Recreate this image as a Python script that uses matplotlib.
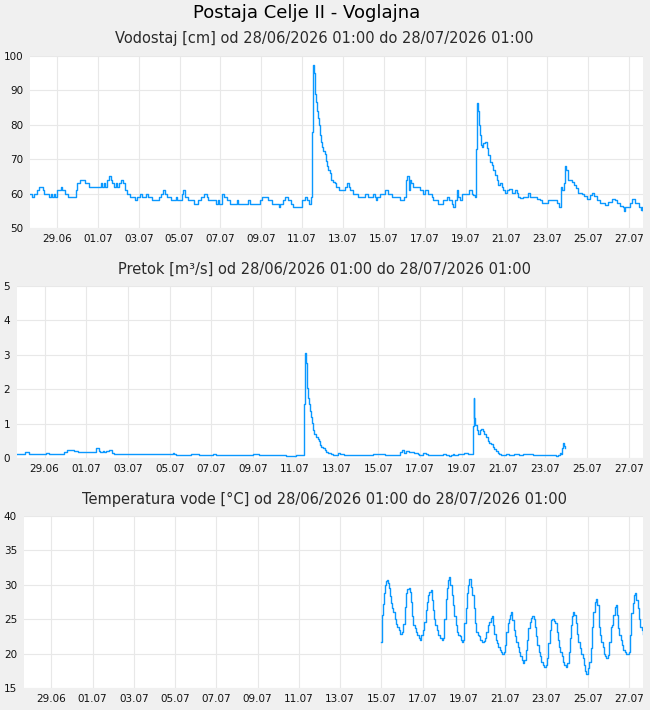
import matplotlib

matplotlib.use("Agg")
import matplotlib.pyplot as plt

# time axis: days since 28/06/2026 01:00 (30 day window)
TICK_DAYS = [1.32 + 2 * k for k in range(15)]
TICK_LABELS = ["29.06", "01.07", "03.07", "05.07", "07.07", "09.07", "11.07", "13.07",
               "15.07", "17.07", "19.07", "21.07", "23.07", "25.07", "27.07"]

# Vodostaj [cm]
level_t = [0.00, 0.08, 0.20, 0.36, 0.46, 0.62, 0.70, 0.95, 1.01, 1.09, 1.17, 1.22, 1.34, 1.50,
           1.57, 1.71, 1.88, 2.25, 2.32, 2.45, 2.69, 2.90, 3.48, 3.54, 3.62, 3.69, 3.79, 3.87,
           3.96, 4.03, 4.13, 4.19, 4.27, 4.34, 4.44, 4.57, 4.63, 4.73, 4.89, 5.14, 5.25, 5.38,
           5.47, 5.68, 5.76, 5.96, 6.30, 6.43, 6.53, 6.62, 6.72, 6.89, 7.13, 7.18, 7.42, 7.51,
           7.59, 7.75, 8.04, 8.24, 8.37, 8.52, 8.65, 8.73, 9.10, 9.20, 9.27, 9.38, 9.49, 9.63,
           9.79, 10.12, 10.18, 10.65, 10.77, 11.26, 11.37, 11.63, 11.83, 12.20, 12.25, 12.37,
           12.48, 12.63, 12.76, 12.89, 13.31, 13.46, 13.57, 13.66, 13.74, 13.82, 13.87, 13.92,
           13.95, 14.00, 14.05, 14.10, 14.15, 14.19, 14.25, 14.30, 14.36, 14.42, 14.47, 14.53,
           14.60, 14.66, 14.73, 14.85, 14.92, 14.98, 15.10, 15.40, 15.50, 15.60, 15.66, 15.83,
           16.07, 16.40, 16.56, 16.77, 16.90, 16.94, 16.98, 17.13, 17.38, 17.54, 17.70, 18.11,
           18.31, 18.39, 18.47, 18.55, 18.58, 18.63, 18.76, 19.09, 19.25, 19.35, 19.50, 19.65,
           19.74, 19.99, 20.23, 20.39, 20.53, 20.64, 20.72, 20.80, 20.88, 20.97, 21.05, 21.16,
           21.49, 21.62, 21.70, 21.78, 21.83, 21.88, 21.92, 21.96, 22.01, 22.06, 22.12, 22.19,
           22.27, 22.35, 22.43, 22.52, 22.60, 22.68, 22.76, 22.84, 22.92, 23.01, 23.09, 23.17,
           23.25, 23.33, 23.46, 23.58, 23.74, 23.82, 23.90, 23.98, 24.11, 24.31, 24.39, 24.47,
           24.80, 24.96, 25.05, 25.37, 25.70, 25.78, 25.91, 25.99, 26.04, 26.11, 26.16, 26.20,
           26.25, 26.32, 26.51, 26.60, 26.73, 26.84, 27.00, 27.13, 27.25, 27.41, 27.49, 27.61,
           27.74, 27.90, 28.14, 28.31, 28.47, 28.63, 28.72, 28.88, 29.04, 29.09, 29.12, 29.37,
           29.48, 29.61, 29.78, 29.89, 29.94, 29.99, 30.00]
level_v = [60, 59, 60, 61, 62, 61, 60, 59, 60, 59, 60, 59, 61, 62,
           61, 60, 59, 61, 63, 64, 63, 62, 63, 62, 63, 62, 64, 65,
           64, 63, 62, 63, 62, 63, 64, 63, 61, 60, 59, 58, 59, 60,
           59, 60, 59, 58, 59, 60, 61, 60, 59, 58, 59, 58, 60, 61,
           59, 58, 57, 58, 59, 60, 59, 58, 57, 58, 57, 60, 59, 58,
           57, 58, 57, 58, 57, 58, 59, 58, 57, 56, 57, 58,
           59, 58, 57, 56, 58, 59, 58, 57, 59, 78, 97.5, 95,
           89, 86.5, 84, 82, 80, 77, 75, 73.5, 72.5, 71.5, 69.5, 68,
           67, 66, 64, 63.5, 63, 62, 61, 62, 63, 62, 61, 60,
           59, 60, 59, 60, 59, 58, 59, 60, 61, 60, 59, 58,
           59, 64, 65, 61, 64, 63, 62, 61, 60, 61, 60, 59,
           58, 57, 58, 59, 58, 57, 56, 58, 61, 59, 58, 60,
           61, 60, 59.5, 59, 73, 86.4, 84, 80, 77, 74, 73.5, 74.8,
           75.1, 73.2, 71.2, 69.3, 68.3, 66.9, 65.4, 64, 62.5, 63, 62, 61,
           60.3, 61, 61.2, 60.3, 61, 60.3, 59.1, 58.6, 59.1, 59, 60.1, 59,
           58.3, 58, 57.2, 58.1, 58.1, 57.2, 56.2, 62, 61, 63, 64.4, 68,
           66.9, 64, 63.5, 62.5, 61.5, 60.3, 60, 59.3, 58.3, 59.6, 60.3, 59.3,
           58.1, 57.2, 56.7, 57.7, 58.3, 58, 57.2, 56.4, 56.2, 55, 56.2, 57.2,
           58.3, 57.2, 56.2, 55.2, 56.2, 55, 55]

# Pretok [m3/s]
flow_t = [0.00, 0.39, 0.58, 1.38, 1.54, 2.26, 2.42, 2.74, 2.90, 3.54, 3.65, 3.78, 3.91, 4.00,
          4.10, 4.18, 4.26, 4.42, 4.55, 4.66, 5.86, 7.46, 7.54, 7.62, 8.34, 8.73, 9.37, 9.53,
          11.29, 11.61, 12.89, 13.37, 13.77, 13.82, 13.85, 13.90, 13.96, 14.01, 14.06, 14.11,
          14.15, 14.20, 14.25, 14.33, 14.41, 14.46, 14.52, 14.58, 14.68, 14.74, 14.80, 14.92,
          15.05, 15.13, 15.37, 15.48, 15.69, 16.01, 16.37, 16.57, 16.73, 16.89, 17.05, 17.65,
          18.32, 18.37, 18.45, 18.56, 18.64, 18.80, 19.01, 19.20, 19.28, 19.44, 19.60, 19.68,
          20.40, 20.56, 20.69, 20.80, 20.88, 20.96, 21.12, 21.44, 21.60, 21.84, 21.89, 21.92,
          21.97, 22.05, 22.11, 22.18, 22.24, 22.32, 22.40, 22.48, 22.56, 22.64, 22.72, 22.80,
          22.88, 22.96, 23.04, 23.12, 23.20, 23.44, 23.60, 23.84, 24.08, 24.24, 24.72, 25.84,
          25.92, 26.00, 26.08, 26.12, 26.19, 26.23, 26.27]
flow_v = [0.12, 0.16, 0.12, 0.15, 0.12, 0.18, 0.22, 0.20, 0.17, 0.18, 0.17, 0.28, 0.20, 0.17,
          0.19, 0.16, 0.19, 0.22, 0.15, 0.12, 0.11, 0.14, 0.11, 0.09, 0.11, 0.09, 0.11, 0.09,
          0.12, 0.09, 0.06, 0.09, 1.58, 3.05, 2.75, 2.03, 1.75, 1.57, 1.38, 1.20,
          1.03, 0.80, 0.70, 0.62, 0.56, 0.48, 0.38, 0.32, 0.28, 0.22, 0.18, 0.14,
          0.12, 0.10, 0.14, 0.12, 0.10, 0.08, 0.10, 0.08, 0.10, 0.08, 0.12, 0.09,
          0.10, 0.17, 0.22, 0.15, 0.19, 0.18, 0.15, 0.12, 0.10, 0.14, 0.12, 0.09,
          0.11, 0.09, 0.06, 0.10, 0.13, 0.10, 0.12, 0.14, 0.12, 0.94, 1.75, 1.15,
          0.95, 0.82, 0.70, 0.80, 0.85, 0.78, 0.70, 0.60, 0.50, 0.45, 0.40, 0.32,
          0.25, 0.19, 0.15, 0.12, 0.10, 0.12, 0.10, 0.12, 0.10, 0.11, 0.09, 0.06,
          0.09, 0.14, 0.12, 0.30, 0.43, 0.35, 0.29]

# Temperatura vode [°C]
temp_t = [17.32, 17.34, 17.37, 17.42, 17.47, 17.51, 17.56, 17.61, 17.66, 17.71, 17.76, 17.81,
          17.85, 17.90, 17.97, 18.03, 18.10, 18.16, 18.23, 18.29, 18.34, 18.39, 18.45, 18.52,
          18.58, 18.65, 18.70, 18.74, 18.81, 18.87, 18.94, 19.00, 19.07, 19.15, 19.20, 19.26,
          19.33, 19.39, 19.46, 19.52, 19.59, 19.65, 19.72, 19.77, 19.81, 19.88, 19.94, 20.01,
          20.07, 20.14, 20.20, 20.27, 20.32, 20.36, 20.43, 20.49, 20.56, 20.62, 20.67, 20.72,
          20.79, 20.85, 20.92, 20.98, 21.04, 21.11, 21.17, 21.24, 21.30, 21.34, 21.40, 21.47,
          21.53, 21.58, 21.63, 21.68, 21.72, 21.79, 21.85, 21.92, 21.98, 22.05, 22.11, 22.18,
          22.28, 22.34, 22.41, 22.47, 22.55, 22.63, 22.68, 22.73, 22.79, 22.86, 22.92, 22.99,
          23.05, 23.12, 23.18, 23.25, 23.31, 23.38, 23.44, 23.51, 23.57, 23.62, 23.67, 23.73,
          23.80, 23.86, 23.93, 23.99, 24.06, 24.12, 24.19, 24.25, 24.32, 24.38, 24.45, 24.51,
          24.57, 24.64, 24.70, 24.75, 24.82, 24.88, 24.95, 25.01, 25.08, 25.14, 25.22, 25.29,
          25.35, 25.42, 25.48, 25.55, 25.61, 25.68, 25.74, 25.81, 25.87, 25.94, 26.00, 26.06,
          26.13, 26.19, 26.26, 26.32, 26.39, 26.45, 26.52, 26.58, 26.63, 26.68, 26.74, 26.81,
          26.87, 26.94, 27.00, 27.07, 27.13, 27.20, 27.26, 27.33, 27.39, 27.46, 27.52, 27.59,
          27.65, 27.72, 27.78, 27.85, 27.91, 27.98, 28.04, 28.11, 28.17, 28.23, 28.30, 28.36,
          28.43, 28.49, 28.56, 28.62, 28.67, 28.72, 28.79, 28.85, 28.92, 28.98, 29.04, 29.11,
          29.17, 29.24, 29.30, 29.37, 29.43, 29.50, 29.56, 29.63, 29.68, 29.74, 29.81, 29.87,
          29.94, 30.00]
temp_v = [21.7, 22.5, 25.6, 27.2, 28.8, 29.9, 30.6, 30.7, 30.2, 29.5, 28.3, 27.3,
          26.6, 26.1, 25.0, 24.3, 23.8, 23.4, 22.9, 22.8, 23.2, 24.3, 26.8, 28.8,
          29.4, 29.6, 29.0, 27.5, 25.4, 24.2, 23.7, 23.2, 22.7, 22.2, 22.0, 22.7,
          23.4, 24.6, 26.3, 27.5, 28.5, 29.0, 29.2, 27.8, 26.3, 25.1, 24.2, 23.4,
          22.7, 22.3, 22.2, 22.0, 22.2, 25.1, 28.0, 29.6, 30.7, 31.2, 30.0, 28.5,
          27.1, 25.4, 24.2, 23.2, 22.7, 22.5, 22.0, 21.7, 22.0, 24.4, 26.6, 28.8,
          30.0, 30.8, 30.9, 29.7, 28.5, 26.6, 24.4, 23.2, 22.7, 22.5, 22.0, 21.7,
          21.8, 22.2, 23.2, 24.2, 24.6, 25.2, 25.4, 24.2, 22.9, 22.0, 21.5, 21.0,
          20.5, 20.2, 20.0, 20.2, 21.2, 23.2, 24.4, 25.1, 25.6, 26.0, 24.9, 23.4,
          22.5, 21.7, 21.0, 20.3, 19.6, 19.1, 18.6, 19.1, 20.5, 22.0, 23.7, 24.6,
          25.2, 25.4, 25.1, 23.9, 22.5, 21.2, 20.3, 19.6, 18.8, 18.3, 18.0, 18.3,
          19.3, 21.5, 23.4, 24.9, 25.1, 24.7, 24.4, 23.2, 22.0, 21.0, 20.3, 19.6,
          18.8, 18.3, 18.1, 18.6, 20.3, 22.2, 24.2, 25.4, 26.1, 25.6, 24.4, 22.9,
          21.7, 20.8, 20.0, 19.3, 18.3, 17.5, 17.1, 17.9, 18.8, 20.8, 23.9, 26.1,
          27.5, 27.9, 27.1, 23.9, 22.7, 21.7, 21.0, 20.0, 19.6, 19.3, 19.8, 21.7,
          23.9, 24.1, 25.6, 26.8, 27.0, 25.6, 23.7, 22.7, 22.0, 21.2, 20.5, 20.3,
          20.0, 19.9, 20.3, 22.7, 25.9, 27.3, 28.5, 28.8, 27.8, 26.6, 25.1, 23.9,
          23.4, 22.8]

BG = "#f0f0f0"
LINE = "#0a98ff"
GRID = "#e8e8e8"
W, H = 650, 710


def px_axes(fig, left, top, right, bottom):
    return fig.add_axes([left / W, 1 - bottom / H, (right - left) / W, (bottom - top) / H])


def style(ax, ylim, yticks, subtitle, title_y):
    ax.set_xlim(0, 30)
    ax.set_ylim(*ylim)
    ax.set_xticks(TICK_DAYS)
    ax.set_xticklabels(TICK_LABELS)
    ax.set_yticks(yticks)
    ax.grid(True, color=GRID, linewidth=0.8)
    ax.set_axisbelow(True)
    for s in ax.spines.values():
        s.set_visible(False)
    ax.tick_params(length=0, labelsize=7.5, colors="#111", pad=5)
    ax.tick_params(axis="x", pad=4)
    ax.figure.text(324 / W, 1 - title_y / H, subtitle, ha="center", va="center",
                   fontsize=10.5, color="#2a2a2a")


fig = plt.figure(figsize=(W / 100, H / 100), dpi=100, facecolor=BG)
fig.text(307 / W, 1 - 13 / H, "Postaja Celje II - Voglajna", ha="center", va="center",
         fontsize=13, color="#000")

ax1 = px_axes(fig, 30, 56, 643, 228)
ax1.step(level_t, level_v, where="post", color=LINE, linewidth=1.0)
style(ax1, (50, 100), [50, 60, 70, 80, 90, 100],
      "Vodostaj [cm] od 28/06/2026 01:00 do 28/07/2026 01:00", 39)

ax2 = px_axes(fig, 17, 286, 643, 458)
ax2.step(flow_t, flow_v, where="post", color=LINE, linewidth=1.0)
style(ax2, (0, 5), [0, 1, 2, 3, 4, 5],
      "Pretok [m³/s] od 28/06/2026 01:00 do 28/07/2026 01:00", 269)

ax3 = px_axes(fig, 24, 516, 643, 688)
ax3.step(temp_t, temp_v, where="post", color=LINE, linewidth=1.0)
style(ax3, (15, 40), [15, 20, 25, 30, 35, 40],
      "Temperatura vode [°C] od 28/06/2026 01:00 do 28/07/2026 01:00", 499)

fig.savefig("out.png", dpi=100, facecolor=BG)
